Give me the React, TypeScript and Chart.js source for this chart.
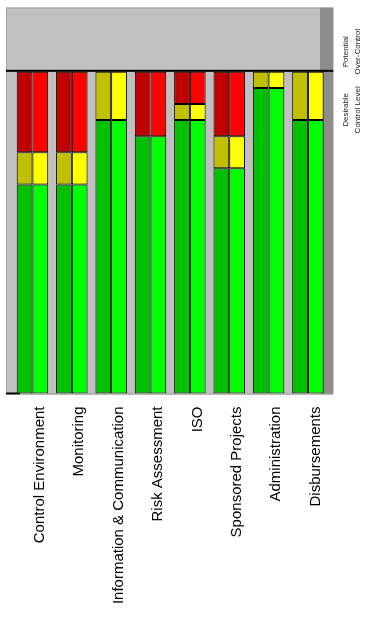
import React, { useEffect, useRef } from "react";
import { Chart, registerables } from "chart.js";

Chart.register(...registerables);

const categories = [
  "Control Environment",
  "Monitoring",
  "Information & Communication",
  "Risk Assessment",
  "ISO",
  "Sponsored Projects",
  "Administration",
  "Disbursements",
];
const greenValues = [65, 65, 85, 80, 85, 70, 95, 85];
const yellowValues = [10, 10, 15, 0, 5, 10, 5, 15];
const redValues = [25, 25, 0, 20, 10, 20, 0, 0];
const desirableLevel = 100;
const axisMax = 120;
const overControlLabel = ["Potential", "Over-Control"];
const desirableLabel = ["Desirable", "Control Level"];

const FONT = "'Liberation Sans', Arial, Helvetica, sans-serif";

const wallPlugin = {
  id: "walls",
  beforeDatasetsDraw(chart: any) {
    const { ctx, chartArea: ca, scales } = chart;
    const y = scales.y;
    const L = ca.left - 6.8;
    const R = ca.right + 5.7;
    const top = ca.top;
    const bottom = ca.bottom;
    ctx.save();
    ctx.fillStyle = "#c0c0c0";
    ctx.fillRect(L, top, R - L, bottom - top);
    ctx.fillStyle = "#8c8c8c";
    ctx.fillRect(R - 13.3, top, 13.3, bottom - top);
    // thin wall edges
    ctx.fillStyle = "#a4a4a4";
    ctx.fillRect(L, top, 1, bottom - top);
    ctx.fillRect(L, top, R - L - 13.3, 1);
    // bottom edge
    ctx.fillStyle = "#000";
    ctx.fillRect(L, bottom - 1, 14, 2);
    ctx.fillStyle = "#7a7a7a";
    ctx.fillRect(L + 14, bottom, R - L - 14, 1);
    // desirable level line
    const yl = y.getPixelForValue(desirableLevel);
    ctx.fillStyle = "#000";
    ctx.fillRect(L, yl - 2, R - L, 2);
    ctx.restore();
  },
  afterDraw(chart: any) {
    const { ctx, chartArea: ca, scales } = chart;
    const y = scales.y;
    const yTop = (y.getPixelForValue(axisMax) + y.getPixelForValue(desirableLevel)) / 2 + 12;
    const yDes = y.getPixelForValue(desirableLevel) + 38;
    const x1 = ca.right + 18.5;
    const x2 = ca.right + 30.5;
    ctx.save();
    ctx.fillStyle = "#222";
    ctx.font = `8px ${FONT}`;
    ctx.textAlign = "center";
    ctx.textBaseline = "middle";
    const drawPair = (lines: string[], cy: number) => {
      [x1, x2].forEach((x, i) => {
        ctx.save();
        ctx.translate(x, cy);
        ctx.rotate(-Math.PI / 2);
        ctx.fillText(lines[i], 0, 0);
        ctx.restore();
      });
    };
    drawPair(overControlLabel, yTop);
    drawPair(desirableLabel, yDes);
    ctx.restore();
  },
};

export default function App() {
  const canvasRef = useRef<HTMLCanvasElement | null>(null);

  useEffect(() => {
    const canvas = canvasRef.current;
    if (!canvas) return;
    const dark = "dark";
    const bright = "bright";
    const common = { borderColor: "#000000", borderWidth: 1, borderSkipped: false as const };
    const chart = new Chart(canvas, {
      type: "bar",
      data: {
        labels: categories,
        datasets: [
          { label: "Green", data: greenValues, backgroundColor: "#00c000", stack: dark, ...common },
          { label: "Yellow", data: yellowValues, backgroundColor: "#c0c000", stack: dark, ...common },
          { label: "Red", data: redValues, backgroundColor: "#c00000", stack: dark, ...common },
          { label: "Green ", data: greenValues, backgroundColor: "#00ff00", stack: bright, ...common },
          { label: "Yellow ", data: yellowValues, backgroundColor: "#ffff00", stack: bright, ...common },
          { label: "Red ", data: redValues, backgroundColor: "#ff0000", stack: bright, ...common },
        ],
      },
      options: {
        animation: false,
        responsive: false,
        maintainAspectRatio: false,
        layout: { padding: { top: 7.5, left: 12.8, right: 37.4, bottom: 0 } },
        datasets: { bar: { categoryPercentage: 0.8, barPercentage: 1.0 } },
        plugins: { legend: { display: false }, tooltip: { enabled: false }, title: { display: false } },
        scales: {
          x: {
            stacked: true,
            grid: { display: false, drawTicks: false },
            border: { display: false },
            afterFit: (scale: any) => {
              scale.height = 228.5;
            },
            ticks: {
              autoSkip: false,
              minRotation: 90,
              maxRotation: 90,
              padding: 13,
              labelOffset: 7.5,
              color: "#000",
              font: { family: FONT, size: 15 },
            },
          },
          y: {
            stacked: true,
            display: false,
            min: 0,
            max: axisMax,
          },
        },
      },
      plugins: [wallPlugin],
    });
    return () => chart.destroy();
  }, []);

  return (
    <div style={{ position: "fixed", left: 0, top: 0, width: 365, height: 622, background: "#fff" }}>
      <canvas ref={canvasRef} width={365} height={622} style={{ width: 365, height: 622, display: "block" }} />
    </div>
  );
}
